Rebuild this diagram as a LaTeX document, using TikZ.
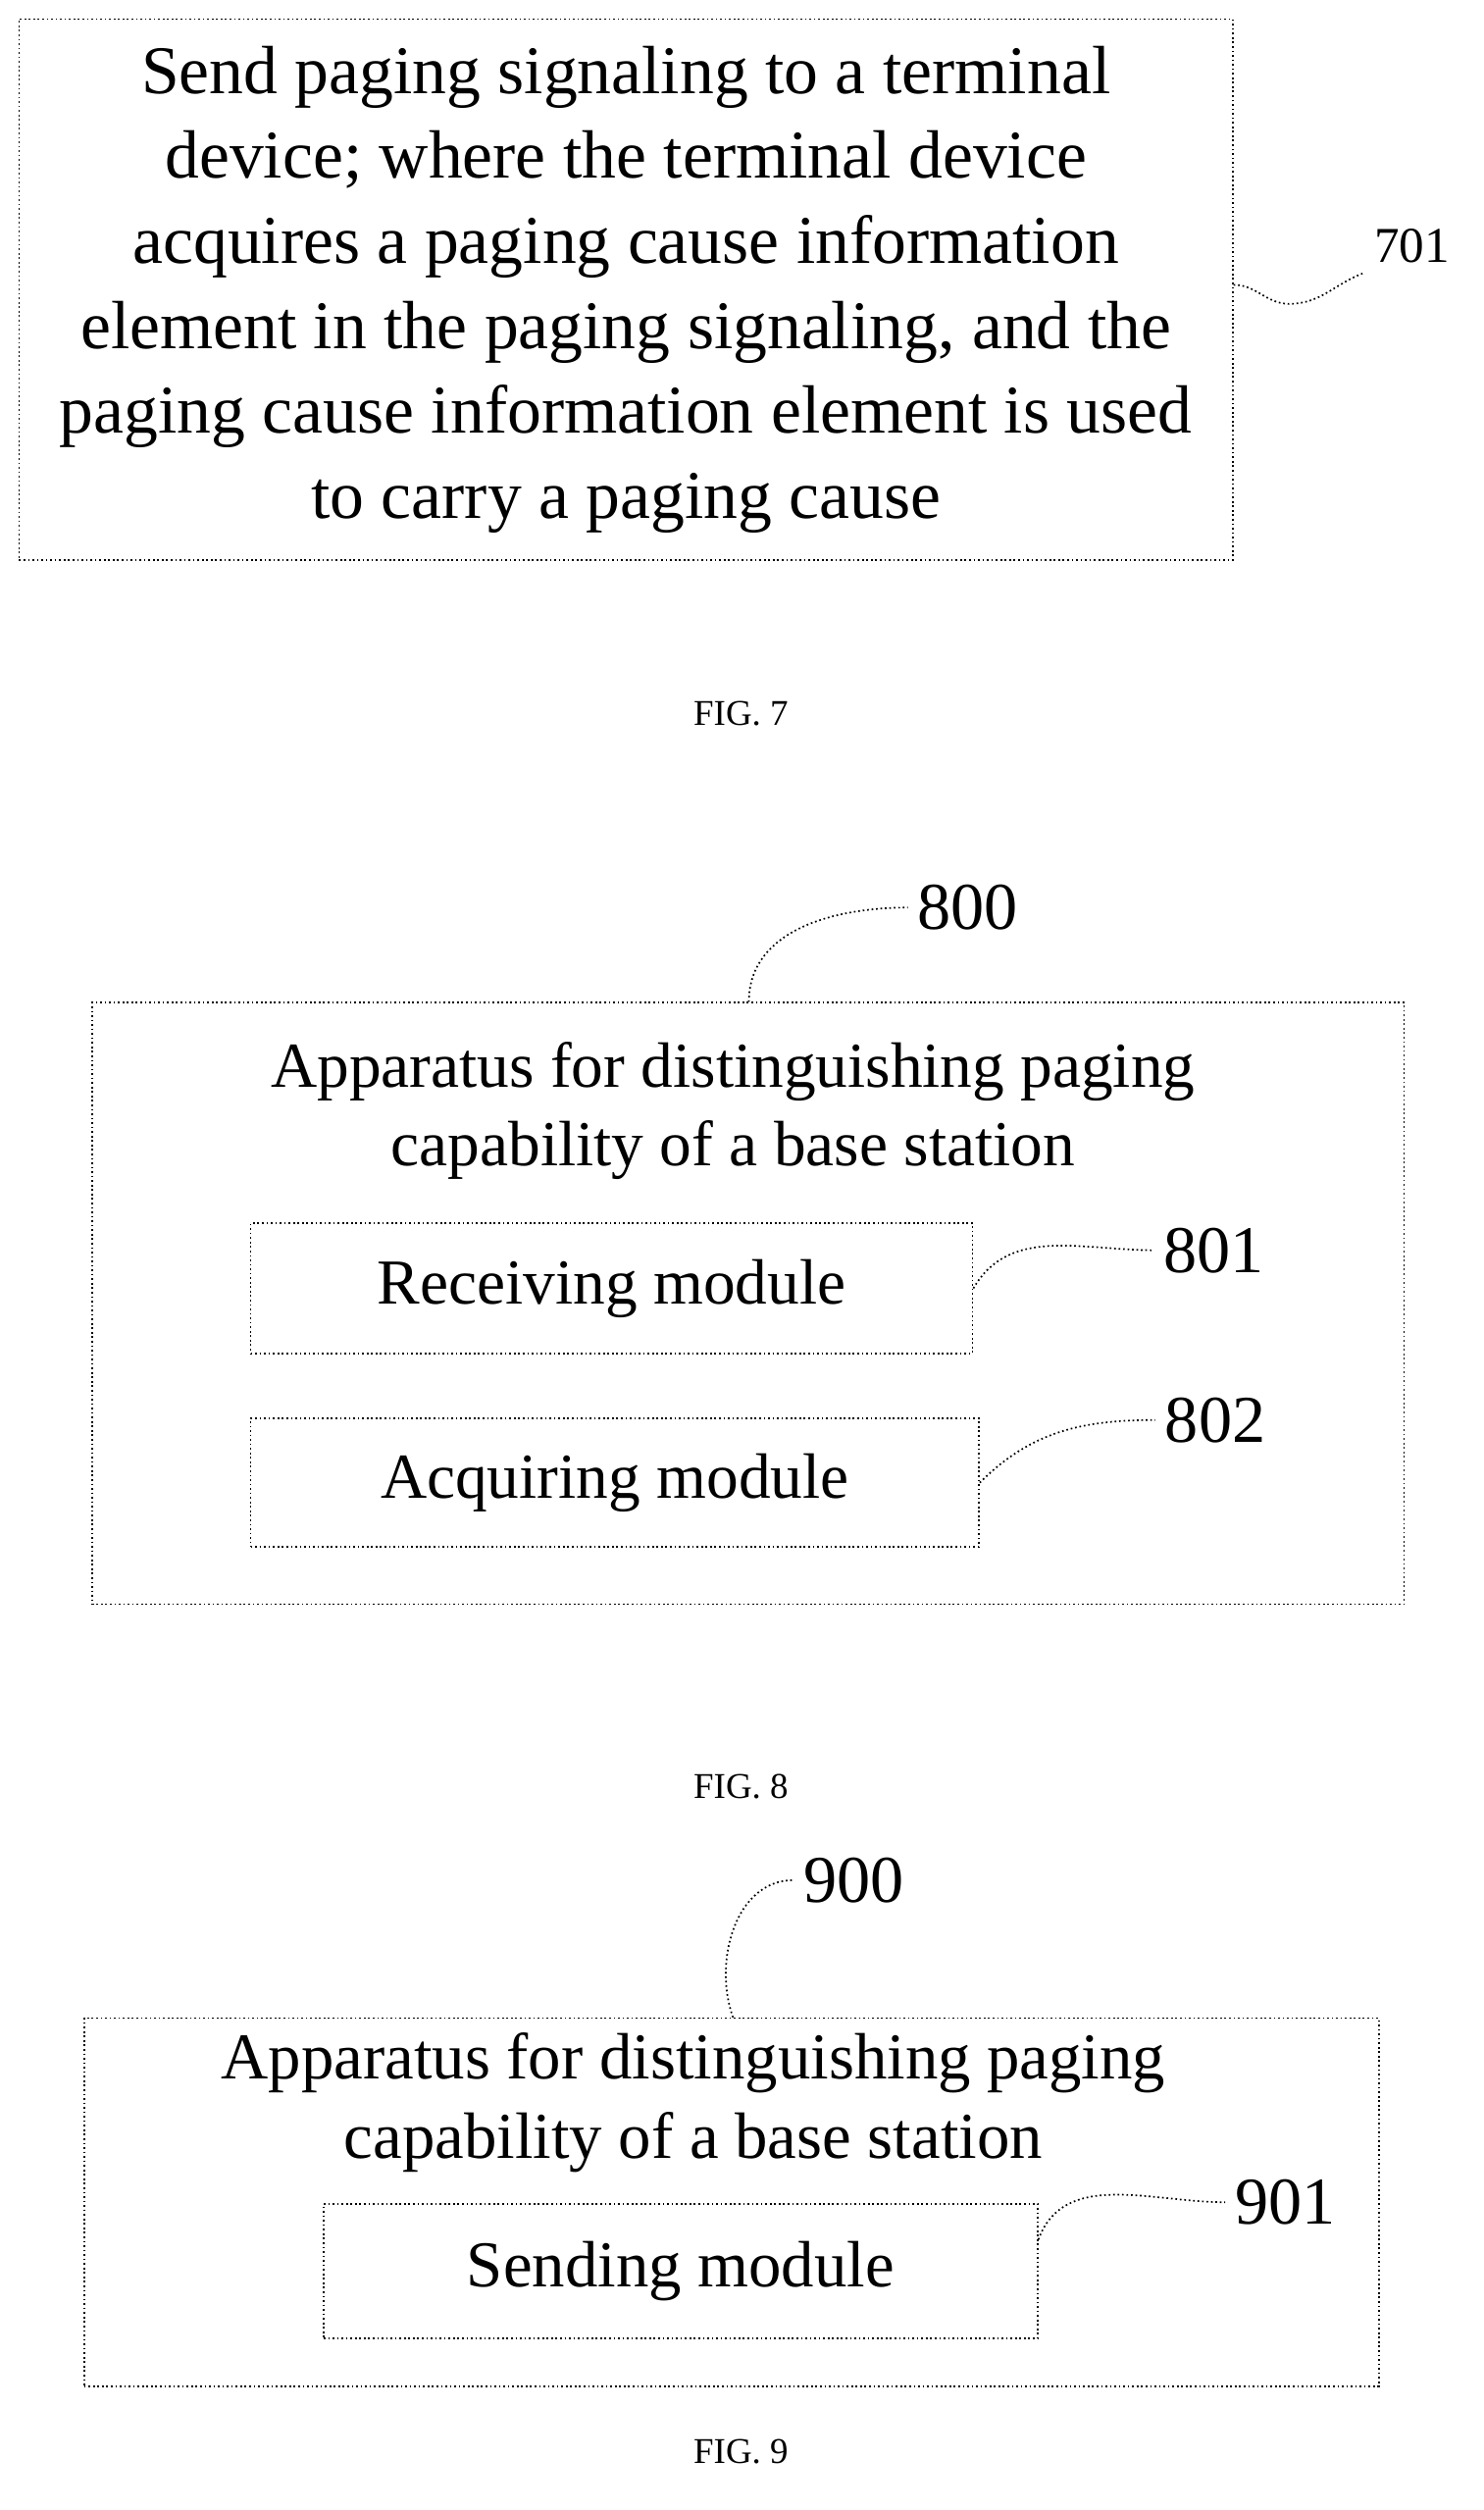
\documentclass[tikz,border=0pt]{standalone}
\usepackage{fontspec}
\setmainfont{Liberation Serif}
\usetikzlibrary{positioning,decorations.pathmorphing}
\tikzset{
  blk/.style={draw, densely dotted, semithick, align=center, inner sep=0pt},
  lbl/.style={font=\fontsize{24}{28}\selectfont},
  figcap/.style={font=\fontsize{13}{15}\selectfont},
  lead/.style={densely dotted, semithick}
}
\begin{document}
\begin{tikzpicture}[x=0.02cm,y=-0.02cm]
\useasboundingbox (0,0) rectangle (935,1582);
% FIG. 7
\node[blk, minimum width=765*0.02cm, minimum height=341*0.02cm,
  font=\fontsize{24.5}{30.5}\selectfont] (s701) at (394.5,182.5)
  {Send paging signaling to a terminal\\device; where the terminal device\\acquires a paging cause information\\element in the paging signaling, and the\\paging cause information element is used\\to carry a paging cause};
\node[font=\fontsize{18}{20}\selectfont] (l701) at (890,155) {701};
\draw[lead] (s701.east) ++(0,-3) coordinate (c701)
  (c701) to[out=0,in=180] ++(35,12) to[out=0,in=200] (l701.south west);
\node[figcap] (f7) at (467,450) {FIG. 7};
% FIG. 8
\node[blk, minimum width=827*0.02cm, minimum height=379*0.02cm] (b800) at (471.5,821.5) {};
\node[align=center, font=\fontsize{23}{28}\selectfont] (t800) at (462,700)
  {Apparatus for distinguishing paging\\capability of a base station};
\node[blk, minimum width=455*0.02cm, minimum height=82*0.02cm,
  font=\fontsize{23}{25}\selectfont] (m801) at (385.5,812) {Receiving module};
\node[blk, minimum width=459*0.02cm, minimum height=81*0.02cm,
  font=\fontsize{23}{25}\selectfont] (m802) at (387.5,934.5) {Acquiring module};
\node[lbl] (l800) at (610,572) {800};
\node[lbl] (l801) at (765,788) {801};
\node[lbl] (l802) at (766,895) {802};
\draw[lead] (b800.north -| 472,0) to[out=90,in=180] (l800.west);
\draw[lead] (m801.east) to[out=60,in=180] (l801.west);
\draw[lead] (m802.east) to[out=45,in=180] (l802.west);
\node[figcap] (f8) at (467,1126) {FIG. 8};
% FIG. 9
\node[blk, minimum width=816*0.02cm, minimum height=232*0.02cm] (b900) at (461,1388) {};
\node[align=center, font=\fontsize{23.5}{28.5}\selectfont] (t900) at (437,1325)
  {Apparatus for distinguishing paging\\capability of a base station};
\node[blk, minimum width=450*0.02cm, minimum height=85*0.02cm,
  font=\fontsize{23.5}{25}\selectfont] (m901) at (429,1431.5) {Sending module};
\node[lbl] (l900) at (538,1185) {900};
\node[lbl] (l901) at (810,1388) {901};
\draw[lead] (b900.north -| 462,0) to[out=110,in=180] (l900.west);
\draw[lead] (m901.east) ++(0,-20) coordinate (c901)
  (c901) to[out=70,in=180] (l901.west);
\node[figcap] (f9) at (467,1545) {FIG. 9};
\end{tikzpicture}
\end{document}
